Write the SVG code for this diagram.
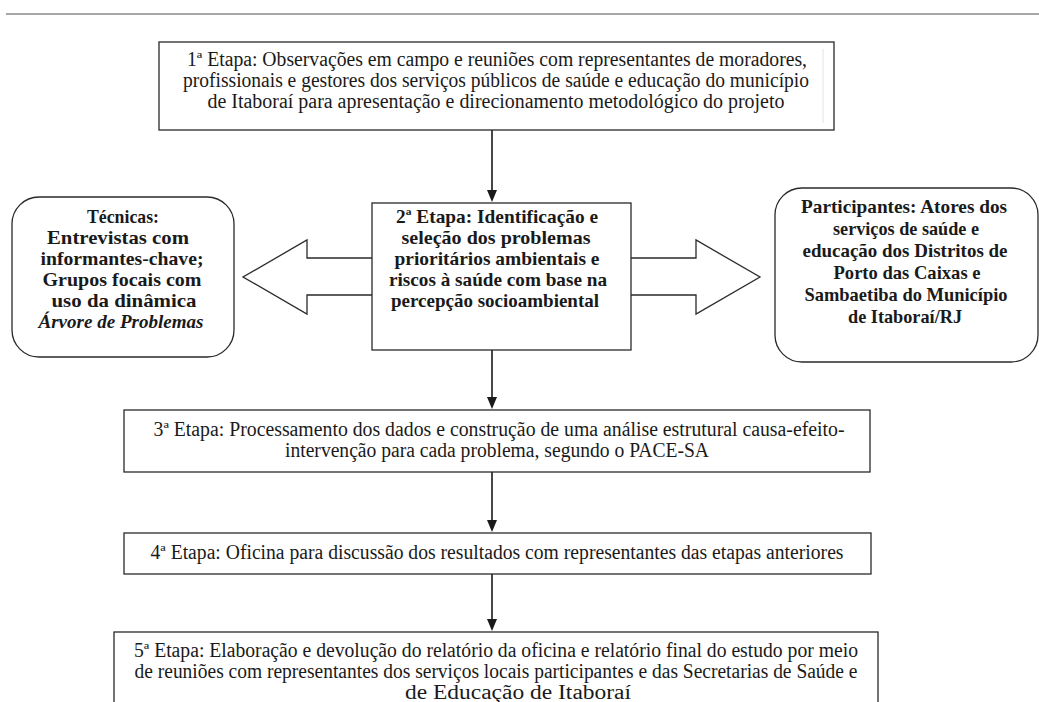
<svg xmlns="http://www.w3.org/2000/svg" width="1039" height="702" viewBox="0 0 1039 702">
<style>
.bg{fill:#ffffff}
.box{fill:#ffffff;stroke:#2a2a2a;stroke-width:1.3}
.rbox{fill:#ffffff;stroke:#2a2a2a;stroke-width:1.3}
.shape{fill:#ffffff;stroke:#2a2a2a;stroke-width:1.3;stroke-linejoin:miter}
.conn{stroke:#1a1a1a;stroke-width:1.6;fill:none}
text{font-family:'Liberation Serif','Times New Roman',Times,'DejaVu Serif',serif;fill:#1a1a1a;text-anchor:middle}
.t{font-size:20px}
.b{font-size:19.5px;font-weight:bold}
.i{font-style:italic}
</style>
<defs>
<marker id="ah" viewBox="0 0 12 10" markerWidth="12" markerHeight="10" refX="4" refY="5" orient="auto" markerUnits="userSpaceOnUse">
<path d="M0,0 L12,5 L0,10 z" fill="#1a1a1a"/>
</marker>
</defs>
<rect class="bg" x="0" y="0" width="1039" height="702"/>
<line x1="6" y1="14" x2="1039" y2="14" stroke="#8a8a8a" stroke-width="1.6"/>

<g id="connectors">
<line class="conn" x1="492" y1="130" x2="492" y2="194" marker-end="url(#ah)"/>
<line class="conn" x1="492" y1="350" x2="492" y2="401" marker-end="url(#ah)"/>
<line class="conn" x1="492" y1="472" x2="492" y2="524" marker-end="url(#ah)"/>
<line class="conn" x1="492" y1="574" x2="492" y2="623" marker-end="url(#ah)"/>
</g>

<g id="etapa1">
<rect class="box" x="159" y="42" width="675" height="88"/>
<line x1="823" y1="49" x2="823" y2="123" stroke="#e2e2e2" stroke-width="1"/>
<text class="t" x="497" y="66" textLength="620" lengthAdjust="spacingAndGlyphs">1ª Etapa: Observações em campo e reuniões com representantes de moradores,</text>
<text class="t" x="496" y="87" textLength="626" lengthAdjust="spacingAndGlyphs">profissionais e gestores dos serviços públicos de saúde e educação do município</text>
<text class="t" x="496" y="108" textLength="577" lengthAdjust="spacingAndGlyphs">de Itaboraí para apresentação e direcionamento metodológico do projeto</text>
</g>

<g id="etapa2">
<path class="shape" d="M372,258 L307,258 L307,240 L243,277 L307,314 L307,295 L372,295"/>
<path class="shape" d="M631,258 L696,258 L696,240 L760,277 L696,314 L696,295 L631,295"/>
<rect class="box" x="372" y="203" width="259" height="147"/>
<text class="b" x="497" y="223" textLength="202" lengthAdjust="spacingAndGlyphs">2ª Etapa: Identificação e</text>
<text class="b" x="496" y="244" textLength="189" lengthAdjust="spacingAndGlyphs">seleção dos problemas</text>
<text class="b" x="497" y="265" textLength="205" lengthAdjust="spacingAndGlyphs">prioritários ambientais e</text>
<text class="b" x="498" y="286" textLength="218" lengthAdjust="spacingAndGlyphs">riscos à saúde com base na</text>
<text class="b" x="495" y="307" textLength="208" lengthAdjust="spacingAndGlyphs">percepção socioambiental</text>
</g>

<g id="tecnicas">
<rect class="rbox" x="12" y="197" width="222" height="160" rx="27" ry="27"/>
<text class="b" x="123" y="223" textLength="72" lengthAdjust="spacingAndGlyphs">Técnicas:</text>
<text class="b" x="118" y="244" textLength="142" lengthAdjust="spacingAndGlyphs">Entrevistas com</text>
<text class="b" x="122" y="265" textLength="163" lengthAdjust="spacingAndGlyphs">informantes-chave;</text>
<text class="b" x="122" y="286" textLength="159" lengthAdjust="spacingAndGlyphs">Grupos focais com</text>
<text class="b" x="124" y="307" textLength="145" lengthAdjust="spacingAndGlyphs">uso da dinâmica</text>
<text class="b i" x="121" y="328" textLength="165" lengthAdjust="spacingAndGlyphs">Árvore de Problemas</text>
</g>

<g id="participantes">
<rect class="rbox" x="775" y="188" width="263" height="174" rx="27" ry="27"/>
<text class="b" x="904" y="213" textLength="206" lengthAdjust="spacingAndGlyphs">Participantes: Atores dos</text>
<text class="b" x="906" y="235" textLength="146" lengthAdjust="spacingAndGlyphs">serviços de saúde e</text>
<text class="b" x="905" y="257" textLength="205" lengthAdjust="spacingAndGlyphs">educação dos Distritos de</text>
<text class="b" x="907" y="279" textLength="147" lengthAdjust="spacingAndGlyphs">Porto das Caixas e</text>
<text class="b" x="906" y="301" textLength="203" lengthAdjust="spacingAndGlyphs">Sambaetiba do Município</text>
<text class="b" x="905" y="323" textLength="114" lengthAdjust="spacingAndGlyphs">de Itaboraí/RJ</text>
</g>

<g id="etapa3">
<rect class="box" x="124" y="410" width="746" height="62"/>
<text class="t" x="499" y="436" textLength="691" lengthAdjust="spacingAndGlyphs">3ª Etapa: Processamento dos dados e construção de uma análise estrutural causa-efeito-</text>
<text class="t" x="497" y="457" textLength="424" lengthAdjust="spacingAndGlyphs">intervenção para cada problema, segundo o PACE-SA</text>
</g>

<g id="etapa4">
<rect class="box" x="124" y="533" width="747" height="41"/>
<text class="t" x="497" y="559" textLength="693" lengthAdjust="spacingAndGlyphs">4ª Etapa: Oficina para discussão dos resultados com representantes das etapas anteriores</text>
</g>

<g id="etapa5">
<rect class="box" x="114" y="632" width="764" height="80"/>
<text class="t" x="496" y="657" textLength="724" lengthAdjust="spacingAndGlyphs">5ª Etapa: Elaboração e devolução do relatório da oficina e relatório final do estudo por meio</text>
<text class="t" x="496" y="678" textLength="723" lengthAdjust="spacingAndGlyphs">de reuniões com representantes dos serviços locais participantes e das Secretarias de Saúde e</text>
<text class="t" x="518" y="699" textLength="226" lengthAdjust="spacingAndGlyphs">de Educação de Itaboraí</text>
</g>
</svg>
